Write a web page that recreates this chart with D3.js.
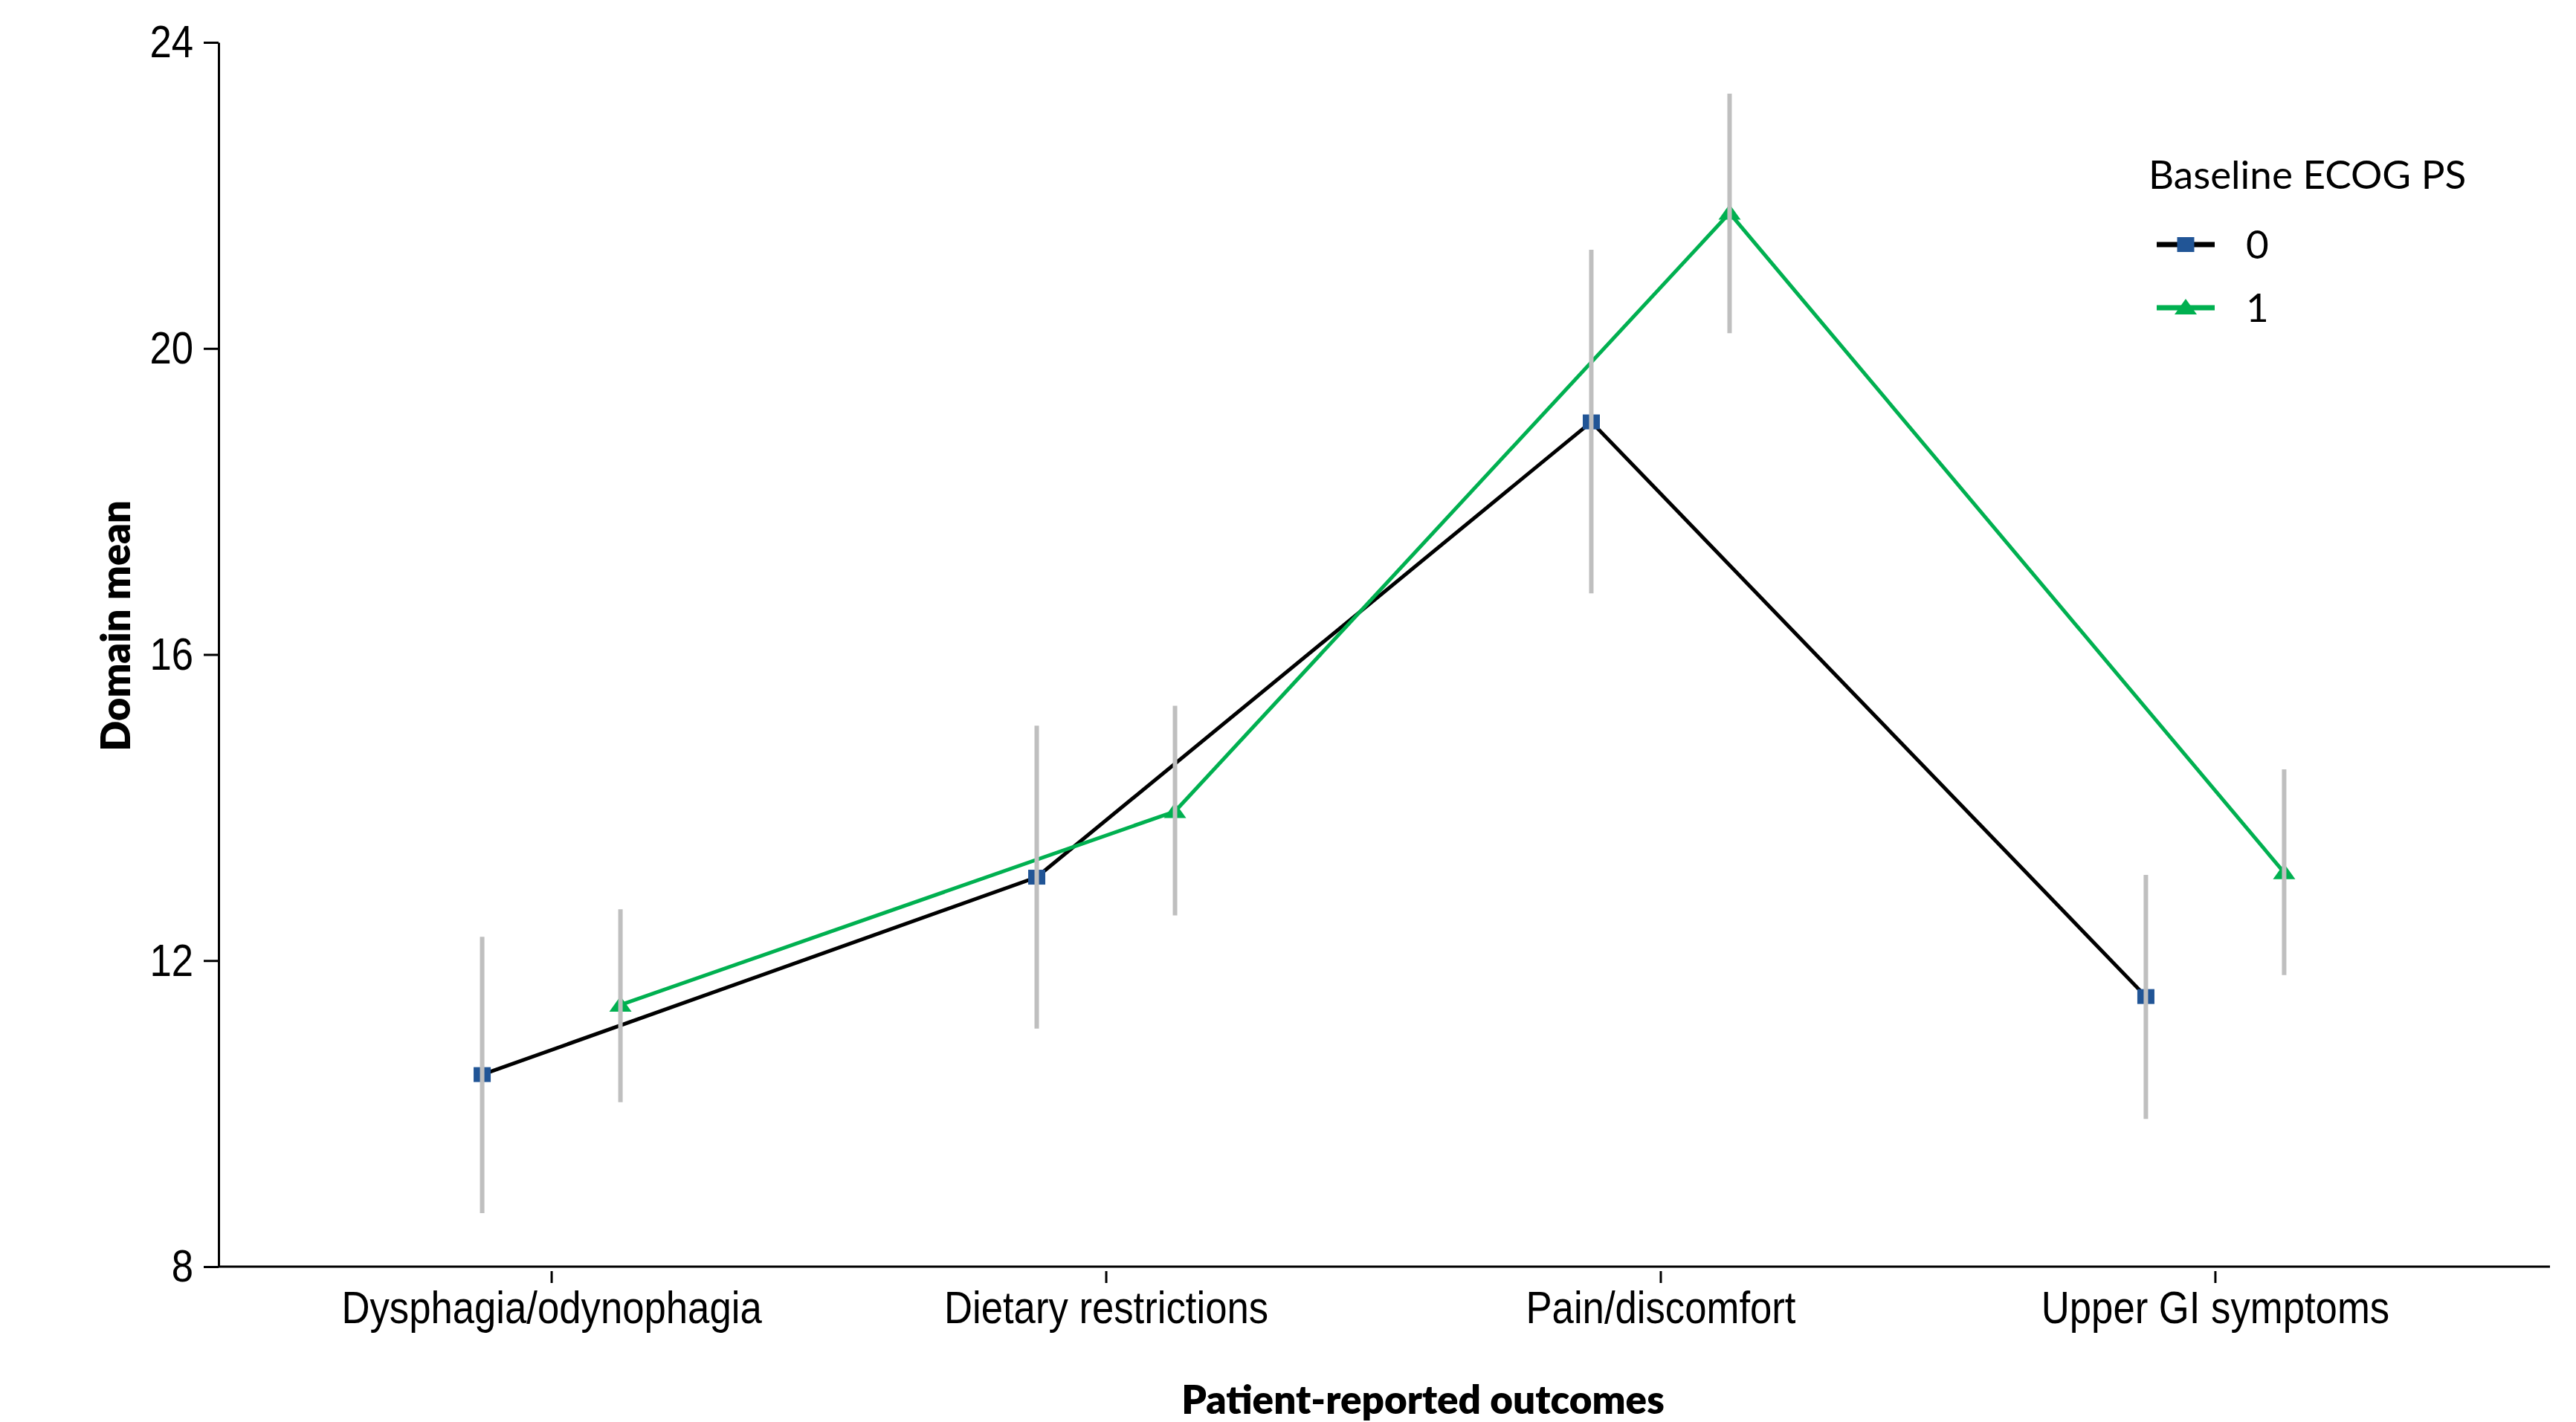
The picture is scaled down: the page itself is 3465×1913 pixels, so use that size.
<!DOCTYPE html>
<html>
<head>
<meta charset="utf-8">
<script src="https://cdn.jsdelivr.net/npm/d3@7"></script>
<style>
  body { margin: 0; background: #fff; }
  svg { display: block; }
</style>
</head>
<body>
<div id="chart"></div>
<script>
const W = 3465, H = 1913;

const categories = ["Dysphagia/odynophagia", "Dietary restrictions", "Pain/discomfort", "Upper GI symptoms"];
const seriesNames = ["0", "1"];
const ecog0Mean = [10.51, 13.09, 19.04, 11.53];
const ecog0Lower = [8.70, 11.11, 16.80, 9.93];
const ecog0Upper = [12.31, 15.07, 21.29, 13.12];
const ecog1Mean = [11.42, 13.95, 21.77, 13.15];
const ecog1Lower = [10.15, 12.59, 20.20, 11.81];
const ecog1Upper = [12.67, 15.33, 23.33, 14.50];
const yTicks = [8, 12, 16, 20, 24];

var series = [
    { name: seriesNames[0], mean: ecog0Mean, lo: ecog0Lower, hi: ecog0Upper, line: "#000000", fill: "#215596", shape: "square", dx: -93 },
    { name: seriesNames[1], mean: ecog1Mean, lo: ecog1Lower, hi: ecog1Upper, line: "#00b050", fill: "#00b050", shape: "triangle", dx: 93 }
];

var svg = d3.select("#chart").append("svg")
    .attr("width", W)
    .attr("height", H);

var x = d3.scalePoint()
    .domain(categories)
    .range([294, 3427])
    .padding(0.6);

var y = d3.scaleLinear()
    .domain([8, 24])
    .range([1704, 57]);

var tickFont = "'Liberation Sans', Arial, sans-serif";
var labelFont = "Lato, 'Open Sans', sans-serif";
var squeeze = 0.85; // tick labels in the original are a condensed face

// y axis
var yAxis = svg.append("g")
    .attr("transform", "translate(294,0)")
    .call(d3.axisLeft(y).tickValues(yTicks).tickSize(20).tickSizeOuter(0));
yAxis.select(".domain").attr("stroke", "#000").attr("stroke-width", 3);
yAxis.selectAll(".tick line").attr("stroke", "#000").attr("stroke-width", 3);
yAxis.selectAll(".tick text")
    .attr("font-family", tickFont)
    .attr("font-size", 62)
    .attr("fill", "#000")
    .attr("x", -34 / squeeze)
    .attr("transform", "scale(" + squeeze + ",1)");

// x axis
var xAxis = svg.append("g")
    .attr("transform", "translate(0,1704)")
    .call(d3.axisBottom(x).tickSize(0).tickSizeOuter(0));
xAxis.select(".domain").attr("stroke", "#000").attr("stroke-width", 3)
    .attr("d", "M294,0H3430");
xAxis.selectAll(".tick line")
    .attr("stroke", "#000").attr("stroke-width", 3)
    .attr("y1", 6).attr("y2", 22);
xAxis.selectAll(".tick text")
    .attr("font-family", tickFont)
    .attr("font-size", 62)
    .attr("fill", "#000")
    .attr("dy", 0)
    .attr("y", 76)
    .attr("transform", "scale(" + squeeze + ",1)");

// axis titles
svg.append("text")
    .attr("transform", "translate(175,842) rotate(-90)")
    .attr("text-anchor", "middle")
    .attr("font-family", labelFont)
    .attr("font-weight", 800)
    .attr("font-size", 54)
    .text("Domain mean");

svg.append("text")
    .attr("x", 1914)
    .attr("y", 1902)
    .attr("text-anchor", "middle")
    .attr("font-family", labelFont)
    .attr("font-weight", 800)
    .attr("font-size", 53)
    .text("Patient-reported outcomes");

var line = d3.line()
    .x(d => d.x)
    .y(d => d.y);

function points(s) {
    return categories.map((c, i) => ({
        x: x(c) + s.dx,
        y: y(s.mean[i]),
        lo: y(s.lo[i]),
        hi: y(s.hi[i])
    }));
}

function drawMarker(g, s, px, py) {
    if (s.shape === "square") {
        g.append("rect")
            .attr("x", px - 11.5).attr("y", py - 10)
            .attr("width", 23).attr("height", 20)
            .attr("fill", s.fill);
    } else {
        g.append("path")
            .attr("d", "M" + (px - 15) + "," + (py + 9) + "L" + (px + 15) + "," + (py + 9) + "L" + px + "," + (py - 12) + "Z")
            .attr("fill", s.fill);
    }
}

// lines and markers
series.forEach(function (s) {
    var pts = points(s);
    svg.append("path")
        .datum(pts)
        .attr("d", line)
        .attr("fill", "none")
        .attr("stroke", s.line)
        .attr("stroke-width", 5);
    var g = svg.append("g");
    pts.forEach(p => drawMarker(g, s, p.x, p.y));
});

// error bars drawn on top
series.forEach(function (s) {
    svg.append("g")
        .selectAll("line")
        .data(points(s))
        .enter()
        .append("line")
        .attr("x1", d => d.x).attr("x2", d => d.x)
        .attr("y1", d => d.hi).attr("y2", d => d.lo)
        .attr("stroke", "#bfbfbf")
        .attr("stroke-width", 6);
});

// legend
var legend = svg.append("g");
legend.append("text")
    .attr("x", 2890)
    .attr("y", 254)
    .attr("font-family", labelFont)
    .attr("font-size", 53)
    .text("Baseline ECOG PS");

series.forEach(function (s, i) {
    var ly = 329 + i * 85;
    legend.append("line")
        .attr("x1", 2901).attr("x2", 2979)
        .attr("y1", ly).attr("y2", ly)
        .attr("stroke", s.line)
        .attr("stroke-width", 7);
    drawMarker(legend, s, 2940, ly);
    legend.append("text")
        .attr("x", 3021)
        .attr("y", ly)
        .attr("dy", "0.35em")
        .attr("font-family", labelFont)
        .attr("font-size", 53)
        .text(s.name);
});
</script>
</body>
</html>
